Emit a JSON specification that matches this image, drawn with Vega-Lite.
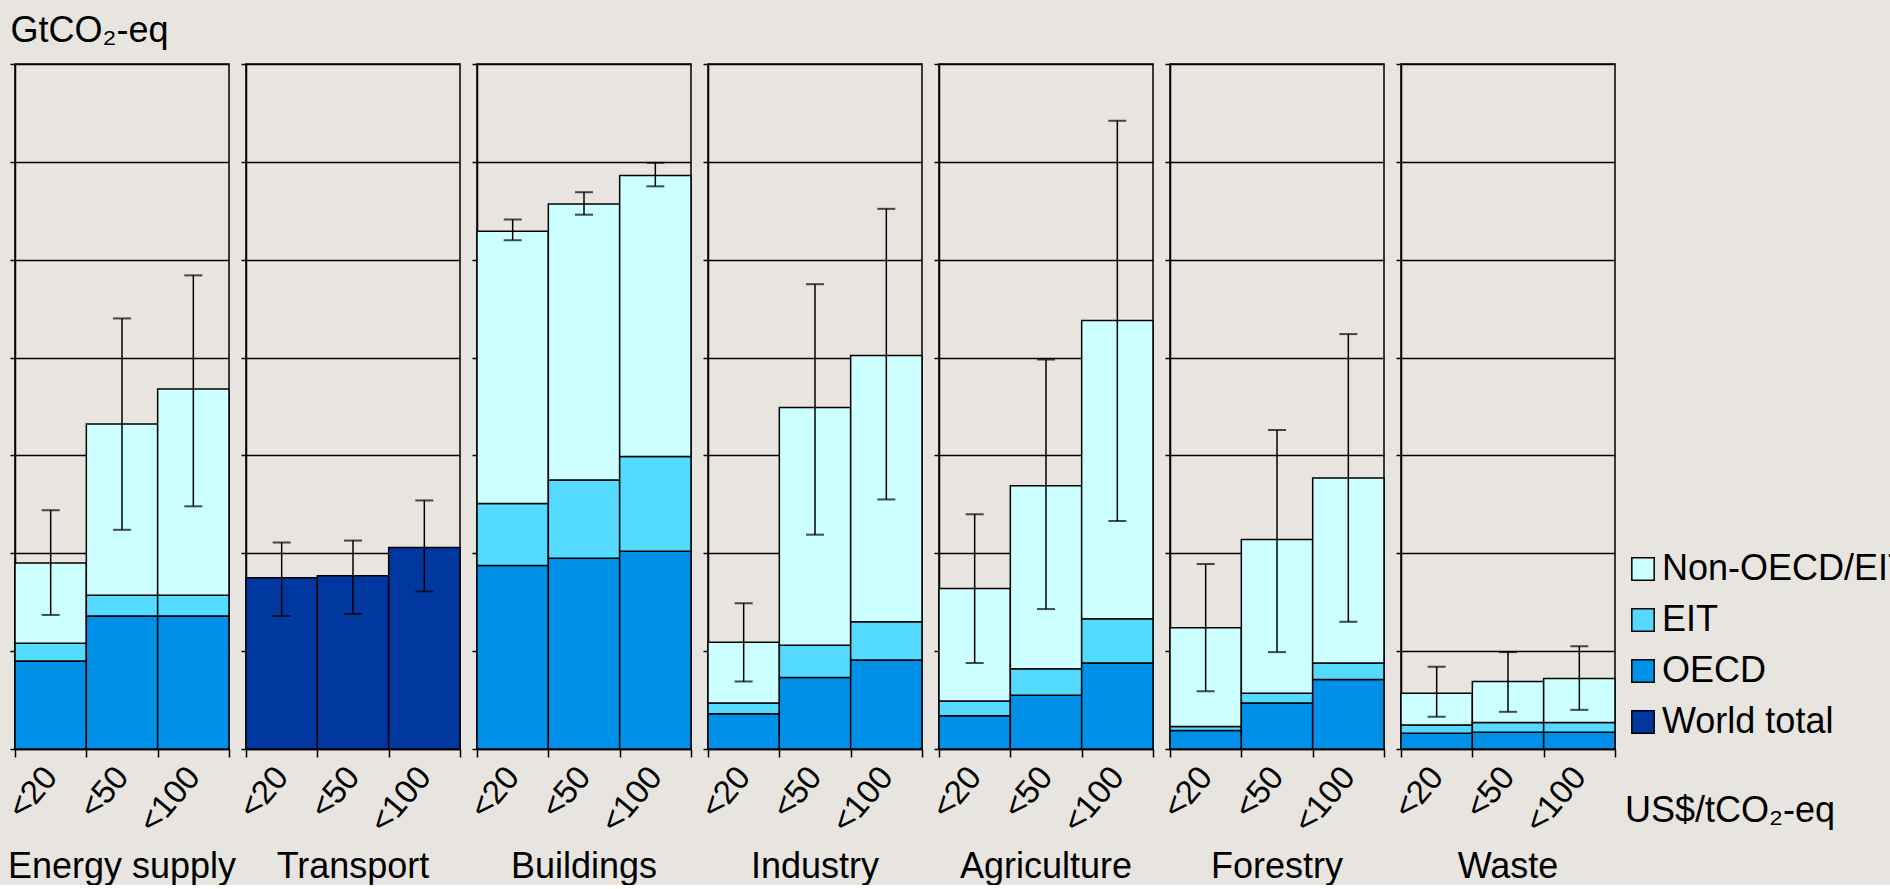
{
  "$schema": "https://vega.github.io/schema/vega-lite/v6.json",
  "background": "#e8e5e0",
  "padding": {"left": 2, "top": 12, "right": 0, "bottom": 0},
  "title": {"text": "GtCO₂-eq", "anchor": "start", "frame": "bounds", "fontSize": 36, "font": "Liberation Sans", "fontWeight": "normal", "color": "black", "offset": 13, "dx": 8},
  "data": {"values": [
    {"sector": "Energy supply", "cost": "<20", "region": "OECD", "value": 0.90},
    {"sector": "Energy supply", "cost": "<20", "region": "EIT", "value": 0.18},
    {"sector": "Energy supply", "cost": "<20", "region": "Non-OECD/EIT", "value": 0.82},
    {"sector": "Energy supply", "cost": "<50", "region": "OECD", "value": 1.36},
    {"sector": "Energy supply", "cost": "<50", "region": "EIT", "value": 0.21},
    {"sector": "Energy supply", "cost": "<50", "region": "Non-OECD/EIT", "value": 1.75},
    {"sector": "Energy supply", "cost": "<100", "region": "OECD", "value": 1.36},
    {"sector": "Energy supply", "cost": "<100", "region": "EIT", "value": 0.21},
    {"sector": "Energy supply", "cost": "<100", "region": "Non-OECD/EIT", "value": 2.11},
    {"sector": "Transport", "cost": "<20", "region": "World total", "value": 1.75},
    {"sector": "Transport", "cost": "<50", "region": "World total", "value": 1.77},
    {"sector": "Transport", "cost": "<100", "region": "World total", "value": 2.06},
    {"sector": "Buildings", "cost": "<20", "region": "OECD", "value": 1.875},
    {"sector": "Buildings", "cost": "<20", "region": "EIT", "value": 0.635},
    {"sector": "Buildings", "cost": "<20", "region": "Non-OECD/EIT", "value": 2.78},
    {"sector": "Buildings", "cost": "<50", "region": "OECD", "value": 1.95},
    {"sector": "Buildings", "cost": "<50", "region": "EIT", "value": 0.80},
    {"sector": "Buildings", "cost": "<50", "region": "Non-OECD/EIT", "value": 2.82},
    {"sector": "Buildings", "cost": "<100", "region": "OECD", "value": 2.02},
    {"sector": "Buildings", "cost": "<100", "region": "EIT", "value": 0.97},
    {"sector": "Buildings", "cost": "<100", "region": "Non-OECD/EIT", "value": 2.87},
    {"sector": "Industry", "cost": "<20", "region": "OECD", "value": 0.36},
    {"sector": "Industry", "cost": "<20", "region": "EIT", "value": 0.11},
    {"sector": "Industry", "cost": "<20", "region": "Non-OECD/EIT", "value": 0.62},
    {"sector": "Industry", "cost": "<50", "region": "OECD", "value": 0.73},
    {"sector": "Industry", "cost": "<50", "region": "EIT", "value": 0.33},
    {"sector": "Industry", "cost": "<50", "region": "Non-OECD/EIT", "value": 2.43},
    {"sector": "Industry", "cost": "<100", "region": "OECD", "value": 0.91},
    {"sector": "Industry", "cost": "<100", "region": "EIT", "value": 0.39},
    {"sector": "Industry", "cost": "<100", "region": "Non-OECD/EIT", "value": 2.72},
    {"sector": "Agriculture", "cost": "<20", "region": "OECD", "value": 0.34},
    {"sector": "Agriculture", "cost": "<20", "region": "EIT", "value": 0.15},
    {"sector": "Agriculture", "cost": "<20", "region": "Non-OECD/EIT", "value": 1.15},
    {"sector": "Agriculture", "cost": "<50", "region": "OECD", "value": 0.55},
    {"sector": "Agriculture", "cost": "<50", "region": "EIT", "value": 0.27},
    {"sector": "Agriculture", "cost": "<50", "region": "Non-OECD/EIT", "value": 1.87},
    {"sector": "Agriculture", "cost": "<100", "region": "OECD", "value": 0.88},
    {"sector": "Agriculture", "cost": "<100", "region": "EIT", "value": 0.45},
    {"sector": "Agriculture", "cost": "<100", "region": "Non-OECD/EIT", "value": 3.05},
    {"sector": "Forestry", "cost": "<20", "region": "OECD", "value": 0.19},
    {"sector": "Forestry", "cost": "<20", "region": "EIT", "value": 0.04},
    {"sector": "Forestry", "cost": "<20", "region": "Non-OECD/EIT", "value": 1.01},
    {"sector": "Forestry", "cost": "<50", "region": "OECD", "value": 0.47},
    {"sector": "Forestry", "cost": "<50", "region": "EIT", "value": 0.10},
    {"sector": "Forestry", "cost": "<50", "region": "Non-OECD/EIT", "value": 1.57},
    {"sector": "Forestry", "cost": "<100", "region": "OECD", "value": 0.71},
    {"sector": "Forestry", "cost": "<100", "region": "EIT", "value": 0.17},
    {"sector": "Forestry", "cost": "<100", "region": "Non-OECD/EIT", "value": 1.89},
    {"sector": "Waste", "cost": "<20", "region": "OECD", "value": 0.16},
    {"sector": "Waste", "cost": "<20", "region": "EIT", "value": 0.085},
    {"sector": "Waste", "cost": "<20", "region": "Non-OECD/EIT", "value": 0.325},
    {"sector": "Waste", "cost": "<50", "region": "OECD", "value": 0.17},
    {"sector": "Waste", "cost": "<50", "region": "EIT", "value": 0.10},
    {"sector": "Waste", "cost": "<50", "region": "Non-OECD/EIT", "value": 0.42},
    {"sector": "Waste", "cost": "<100", "region": "OECD", "value": 0.17},
    {"sector": "Waste", "cost": "<100", "region": "EIT", "value": 0.10},
    {"sector": "Waste", "cost": "<100", "region": "Non-OECD/EIT", "value": 0.45},
    {"sector": "Energy supply", "cost": "<20", "low": 1.37, "high": 2.44},
    {"sector": "Energy supply", "cost": "<50", "low": 2.24, "high": 4.40},
    {"sector": "Energy supply", "cost": "<100", "low": 2.48, "high": 4.84},
    {"sector": "Transport", "cost": "<20", "low": 1.36, "high": 2.11},
    {"sector": "Transport", "cost": "<50", "low": 1.38, "high": 2.13},
    {"sector": "Transport", "cost": "<100", "low": 1.61, "high": 2.54},
    {"sector": "Buildings", "cost": "<20", "low": 5.20, "high": 5.41},
    {"sector": "Buildings", "cost": "<50", "low": 5.46, "high": 5.69},
    {"sector": "Buildings", "cost": "<100", "low": 5.75, "high": 5.99},
    {"sector": "Industry", "cost": "<20", "low": 0.69, "high": 1.49},
    {"sector": "Industry", "cost": "<50", "low": 2.19, "high": 4.75},
    {"sector": "Industry", "cost": "<100", "low": 2.55, "high": 5.52},
    {"sector": "Agriculture", "cost": "<20", "low": 0.88, "high": 2.40},
    {"sector": "Agriculture", "cost": "<50", "low": 1.43, "high": 3.98},
    {"sector": "Agriculture", "cost": "<100", "low": 2.33, "high": 6.42},
    {"sector": "Forestry", "cost": "<20", "low": 0.59, "high": 1.89},
    {"sector": "Forestry", "cost": "<50", "low": 0.99, "high": 3.26},
    {"sector": "Forestry", "cost": "<100", "low": 1.30, "high": 4.24},
    {"sector": "Waste", "cost": "<20", "low": 0.33, "high": 0.84},
    {"sector": "Waste", "cost": "<50", "low": 0.38, "high": 0.99},
    {"sector": "Waste", "cost": "<100", "low": 0.40, "high": 1.05}
  ]},
  "facet": {
    "column": {
      "field": "sector", "type": "nominal", "title": null,
      "sort": ["Energy supply", "Transport", "Buildings", "Industry", "Agriculture", "Forestry", "Waste"],
      "header": {"labelOrient": "bottom", "labelFontSize": 36, "labelFont": "Liberation Sans", "labelColor": "black", "labelPadding": 11}
    }
  },
  "spacing": 17,
  "bounds": "flush",
  "resolve": {"axis": {"y": "independent"}},
  "spec": {
    "width": 214,
    "height": 685,
    "layer": [
      {
        "transform": [
          {"filter": "isValid(datum.region)"},
          {"calculate": "indexof(['OECD', 'EIT', 'Non-OECD/EIT', 'World total'], datum.region)", "as": "stackOrder"}
        ],
        "mark": {"type": "bar", "stroke": "black", "strokeWidth": 1.5},
        "encoding": {
          "x": {"field": "cost", "type": "nominal", "sort": ["<20", "<50", "<100"], "scale": {"paddingInner": 0, "paddingOuter": 0}},
          "y": {"field": "value", "type": "quantitative", "stack": "zero", "scale": {"domain": [0, 7], "nice": false}, "axis": {"values": [0, 1, 2, 3, 4, 5, 6, 7]}},
          "order": {"field": "stackOrder", "type": "quantitative", "sort": "ascending"},
          "color": {
            "field": "region", "type": "nominal",
            "scale": {"domain": ["Non-OECD/EIT", "EIT", "OECD", "World total"], "range": ["#ccffff", "#54daff", "#0090e8", "#0038a0"]},
            "legend": {
              "orient": "none", "legendX": 1610, "legendY": 487,
              "title": "US$/tCO₂-eq", "titleOrient": "bottom", "titleAnchor": "start", "titleLimit": 0,
              "titleFontSize": 36, "titleFont": "Liberation Sans", "titleFontWeight": "normal", "titleColor": "black", "titlePadding": 54,
              "labelFontSize": 36, "labelFont": "Liberation Sans", "labelColor": "black", "labelLimit": 0, "labelOffset": 1,
              "symbolType": "square", "symbolSize": 500, "symbolStrokeColor": "black", "symbolStrokeWidth": 1.5, "symbolOpacity": 1,
              "rowPadding": 15
            }
          }
        }
      },
      {
        "transform": [{"filter": "isValid(datum.low)"}],
        "mark": {"type": "rule", "color": "black", "strokeWidth": 1.5},
        "encoding": {
          "x": {"field": "cost", "type": "nominal", "sort": ["<20", "<50", "<100"]},
          "y": {"field": "low", "type": "quantitative"},
          "y2": {"field": "high"}
        }
      },
      {
        "transform": [{"filter": "isValid(datum.low)"}],
        "mark": {"type": "tick", "color": "black", "thickness": 2, "size": 18},
        "encoding": {
          "x": {"field": "cost", "type": "nominal", "sort": ["<20", "<50", "<100"]},
          "y": {"field": "low", "type": "quantitative"}
        }
      },
      {
        "transform": [{"filter": "isValid(datum.high)"}],
        "mark": {"type": "tick", "color": "black", "thickness": 2, "size": 18},
        "encoding": {
          "x": {"field": "cost", "type": "nominal", "sort": ["<20", "<50", "<100"]},
          "y": {"field": "high", "type": "quantitative"}
        }
      }
    ]
  },
  "config": {
    "view": {"stroke": "black", "strokeWidth": 1.5},
    "axisY": {"title": null, "labels": false, "grid": true, "gridColor": "black", "gridWidth": 1.5, "gridOpacity": 1, "domainColor": "black", "domainWidth": 1.5, "tickColor": "black", "tickSize": 5, "tickWidth": 1.5, "minExtent": 0},
    "axisX": {"title": null, "labelAngle": -50, "labelFontSize": 33, "labelFont": "Liberation Sans", "labelColor": "black", "tickColor": "black", "tickSize": 8, "tickWidth": 1.5, "tickBand": "extent", "domainColor": "black", "domainWidth": 1.5, "labelPadding": 14}
  }
}
